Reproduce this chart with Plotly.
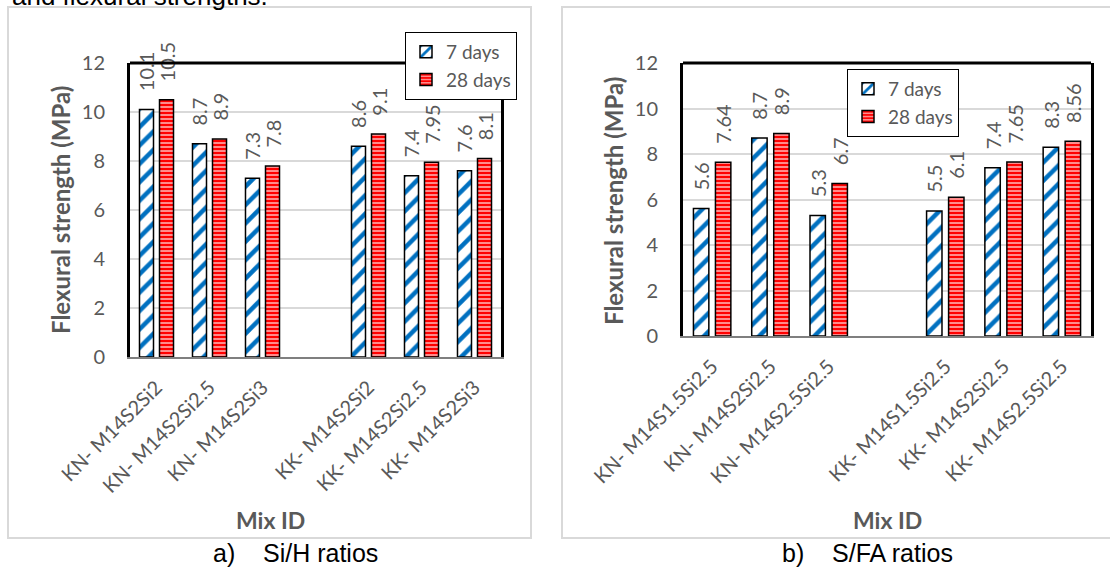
import plotly.graph_objects as go

# ---------------- data ----------------
cats_a = ["KN- M14S2Si2", "KN- M14S2Si2.5", "KN- M14S2Si3", " ",
          "KK- M14S2Si2", "KK- M14S2Si2.5", "KK- M14S2Si3"]
a_7days = [10.1, 8.7, 7.3, None, 8.6, 7.4, 7.6]
a_28days = [10.5, 8.9, 7.8, None, 9.1, 7.95, 8.1]

cats_b = ["KN- M14S1.5Si2.5", "KN- M14S2Si2.5", "KN- M14S2.5Si2.5", " ",
          "KK- M14S1.5Si2.5", "KK- M14S2Si2.5", "KK- M14S2.5Si2.5"]
b_7days = [5.6, 8.7, 5.3, None, 5.5, 7.4, 8.3]
b_28days = [7.64, 8.9, 6.7, None, 6.1, 7.65, 8.56]

series_names = ["7 days", "28 days"]
y_ticks = [0, 2, 4, 6, 8, 10, 12]

# ---------------- style ----------------
W, H = 1110, 572
GRAY = "#595959"
BLUE = "#0070C0"
RED = "#FF0000"
FONT = "Lato"
NB = "\u00a0"


def px_x(v):
    return v / W


def px_y(v):
    return 1 - v / H


def labels(vals):
    return [("" if v is None else NB * 3 + f"{v:g}") for v in vals]


fig = go.Figure()


def add_bars(cats, v7, v28, xa, ya, legend):
    fig.add_trace(go.Bar(
        x=cats, y=v7, name=series_names[0], xaxis=xa, yaxis=ya, legend=legend,
        text=labels(v7), textposition="outside", textangle=-90,
        constraintext="none", cliponaxis=False,
        textfont=dict(family=FONT, size=20, color=GRAY),
        marker=dict(color="white", line=dict(color="black", width=1.5),
                    pattern=dict(shape="/", fgcolor=BLUE, bgcolor="white",
                                 size=13, solidity=0.35, fillmode="replace")),
    ))
    fig.add_trace(go.Bar(
        x=cats, y=v28, name=series_names[1], xaxis=xa, yaxis=ya, legend=legend,
        text=labels(v28), textposition="outside", textangle=-90,
        constraintext="none", cliponaxis=False,
        textfont=dict(family=FONT, size=20, color=GRAY),
        marker=dict(color="white", line=dict(color="black", width=1.5),
                    pattern=dict(shape="-", fgcolor=RED, bgcolor="#FFE6E6",
                                 size=4, solidity=0.7, fillmode="replace")),
    ))


add_bars(cats_a, a_7days, a_28days, "x", "y", "legend")
add_bars(cats_b, b_7days, b_28days, "x2", "y2", "legend2")

# plot areas (pixels)
A = dict(x0=130, x1=501, y0=63, y1=357)
B = dict(x0=683, x1=1091, y0=63, y1=336)

xcommon = dict(type="category", showgrid=False, showline=True, linecolor="#7F7F7F",
               linewidth=2, ticks="", tickangle=-45, automargin=False,
               ticklabelstandoff=9,
               tickfont=dict(family=FONT, size=20, color=GRAY), fixedrange=True)
ycommon = dict(range=[0, 12], tickvals=y_ticks, showgrid=True, gridcolor="#D9D9D9",
               gridwidth=1.5, showline=True, linecolor="black", linewidth=3,
               mirror=True, ticks="", zeroline=False, automargin=False,
               tickfont=dict(family=FONT, size=20, color=GRAY), ticklabelstandoff=18)

fig.update_layout(
    width=W, height=H, margin=dict(l=0, r=0, t=0, b=0, autoexpand=False),
    paper_bgcolor="white", plot_bgcolor="white",
    barmode="group", bargap=0.245, bargroupgap=0.3,
    xaxis=dict(domain=[px_x(A["x0"]), px_x(A["x1"])], anchor="y", **xcommon),
    yaxis=dict(domain=[px_y(A["y1"]), px_y(A["y0"])], anchor="x", **ycommon),
    xaxis2=dict(domain=[px_x(B["x0"]), px_x(B["x1"])], anchor="y2", **xcommon),
    yaxis2=dict(domain=[px_y(B["y1"]), px_y(B["y0"])], anchor="x2", **ycommon),
    legend=dict(x=px_x(405), y=px_y(32), xanchor="left", yanchor="top",
                bgcolor="white", bordercolor="black", borderwidth=1,
                font=dict(family=FONT, size=19, color=GRAY), tracegroupgap=0,
                itemwidth=30),
    legend2=dict(x=px_x(847), y=px_y(69), xanchor="left", yanchor="top",
                 bgcolor="white", bordercolor="black", borderwidth=1,
                 font=dict(family=FONT, size=19, color=GRAY), tracegroupgap=0,
                 itemwidth=30),
    showlegend=True,
)

shapes = []
# panel frames
shapes.append(dict(type="rect", xref="paper", yref="paper", x0=px_x(8), x1=px_x(531),
                   y0=px_y(538), y1=px_y(7), line=dict(color="#D9D9D9", width=2),
                   layer="below"))
shapes.append(dict(type="rect", xref="paper", yref="paper", x0=px_x(562), x1=px_x(1125),
                   y0=px_y(538), y1=px_y(7), line=dict(color="#D9D9D9", width=2),
                   layer="below"))
# black top border of each plot area
for xr, yr in [("x domain", "y domain"), ("x2 domain", "y2 domain")]:
    shapes.append(dict(type="line", xref=xr, yref=yr, x0=0, x1=1, y0=1, y1=1,
                       line=dict(color="black", width=3), layer="above"))
fig.update_layout(shapes=shapes)


def note(text, x, y, size, family=FONT, color=GRAY, angle=0, xanchor="center",
         yanchor="middle"):
    return dict(text=text, xref="paper", yref="paper", x=px_x(x), y=px_y(y),
                xanchor=xanchor, yanchor=yanchor, textangle=angle, showarrow=False,
                font=dict(family=family, size=size, color=color))


ann = [note("and flexural strengths.", 10, 12.5, 26, family="Arial", color="black",
            xanchor="left", yanchor="bottom")]
# axis titles
for xc, yc in [(61, 210), (613, 201)]:
    ann.append(note("<b>Flexural strength (MPa)</b>", xc, yc, 24, angle=-90))
for xc in [270, 887]:
    ann.append(note("<b>Mix ID</b>", xc, 520, 23))
# captions
ann.append(note("a)    Si/H ratios", 295, 553, 25, family="Arial", color="black"))
ann.append(note("b)    S/FA ratios", 867, 553, 25, family="Arial", color="black"))
fig.update_layout(annotations=ann)

fig.write_html(
    "out.html",
    config={"displayModeBar": False},
    post_script="document.body.style.margin='0';document.body.style.overflow='hidden';",
)
